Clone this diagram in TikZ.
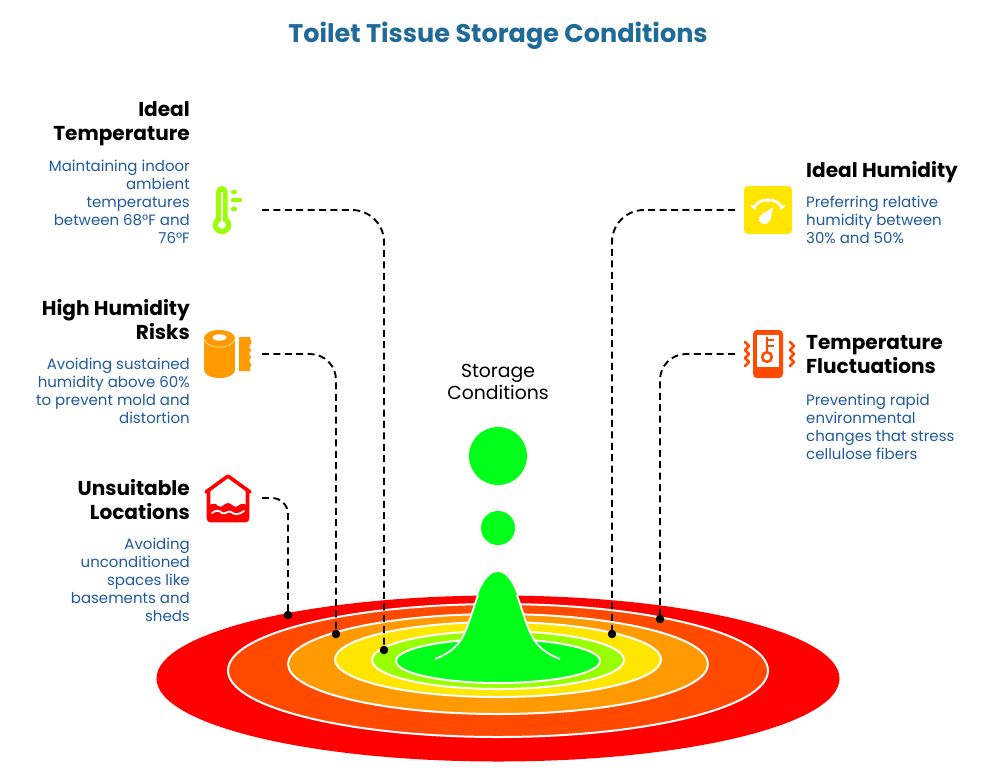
\documentclass[tikz,border=0pt]{standalone}
\usepackage{fontspec}
\setmainfont{Poppins}
\definecolor{cRed}{HTML}{FF0000}
\definecolor{cOrd}{HTML}{FF4A00}
\definecolor{cOra}{HTML}{FF9A00}
\definecolor{cYel}{HTML}{FFE600}
\definecolor{cLim}{HTML}{99FF00}
\definecolor{cGrn}{HTML}{00FF19}
\definecolor{cBody}{HTML}{1F5A9E}
\definecolor{cTitle}{HTML}{1F6A96}
\tikzset{
  ring/.style={draw=white,line width=2pt},
  head/.style={inner sep=0pt,font=\fontsize{20.1}{24}\selectfont\bfseries,text=black},
  body/.style={inner sep=0pt,font=\fontsize{15}{18}\selectfont,text=cBody},
  conn/.style={draw=black,line width=1.9pt,dash pattern=on 7pt off 4.4pt},
  dot/.style={circle,fill=black,inner sep=0pt,minimum size=8.5pt},
}
\begin{document}
\begin{tikzpicture}[x=1pt,y=-1pt]
\useasboundingbox (0,0) rectangle (991,772);
\fill[white] (0,0) rectangle (991,772);
\node[inner sep=0pt,font=\fontsize{25.5}{30}\selectfont\bfseries,text=cTitle] (title) at (498,36) {Toilet Tissue Storage Conditions};
% rings
\fill[cRed] (498,678.5) ellipse [x radius=341.5,y radius=83];
\path[ring,fill=cOrd] (498,670.5) ellipse [x radius=270,y radius=66.5];
\path[ring,fill=cOra] (498,664) ellipse [x radius=210,y radius=50];
\path[ring,fill=cYel] (498,659.5) ellipse [x radius=163,y radius=37.5];
\path[ring,fill=cLim] (498,660) ellipse [x radius=126,y radius=29];
\path[ring,fill=cGrn] (498,661) ellipse [x radius=102,y radius=22];
% bell
\fill[cGrn] (435,659) .. controls (448,654) and (456,648) .. (462,638) .. controls (468,628) and (472,612) .. (478,595) .. controls (481,586) and (488,572) .. (498,572) .. controls (507,572) and (514,586) .. (517,595) .. controls (523,612) and (527,628) .. (533,638) .. controls (539,648) and (547,654) .. (560,659) -- cycle;
\draw[white,line width=1.8pt] (435,659) .. controls (448,654) and (456,648) .. (462,638) .. controls (468,628) and (472,612) .. (478,595);
\draw[white,line width=1.8pt] (517,595) .. controls (523,612) and (527,628) .. (533,638) .. controls (539,648) and (547,654) .. (560,659);
\node[circle,fill=cGrn,inner sep=0pt,minimum size=58pt] (bigdrop) at (498,456) {};
\node[circle,fill=cGrn,inner sep=0pt,minimum size=34pt] (smalldrop) at (498,528) {};
\node[inner sep=0pt,align=center,font=\fontsize{18.8}{22}\selectfont] (storage) at (498,382) {Storage\\Conditions};
% left texts
\node[head,anchor=north east,align=right] (h1) at (190,101) {Ideal\\Temperature};
\node[body,anchor=north east,align=right] (b1) at (190,160) {Maintaining indoor\\ambient\\temperatures\\between 68°F and\\76°F};
\node[head,anchor=north east,align=right] (h2) at (190,299) {High Humidity\\Risks};
\node[body,anchor=north east,align=right] (b2) at (190,358) {Avoiding sustained\\humidity above 60\%\\to prevent mold and\\distortion};
\node[head,anchor=north east,align=right] (h3) at (190,479) {Unsuitable\\Locations};
\node[body,anchor=north east,align=right] (b3) at (190,538) {Avoiding\\unconditioned\\spaces like\\basements and\\sheds};
% right texts
\node[head,anchor=north west,align=left] (h4) at (806,161) {Ideal Humidity};
\node[body,anchor=north west,align=left] (b4) at (806,196) {Preferring relative\\humidity between\\30\% and 50\%};
\node[head,anchor=north west,align=left] (h5) at (806,335) {Temperature\\Fluctuations};
\node[body,anchor=north west,align=left] (b5) at (806,394) {Preventing rapid\\environmental\\changes that stress\\cellulose fibers};
% thermometer icon
\fill[cLim,rounded corners=5.6pt] (216.2,186) rectangle (227.6,226);
\fill[cLim] (222,225) circle (9.2);
\fill[white] (220.7,192) rectangle (223.3,222);
\fill[white] (222,225) circle (4);
\draw[cLim,line width=3.4pt,line cap=round] (232.5,192) -- (235.5,192) (232.5,200) -- (240.5,200) (232.5,209) -- (235.5,209);
% roll icon
\fill[cOra] (204,338) rectangle (235,370);
\fill[cOra] (219.5,370) ellipse [x radius=15.5,y radius=8];
\fill[cOra] (219.5,338) ellipse [x radius=15.5,y radius=8];
\fill[white] (219.5,337.5) ellipse [x radius=7,y radius=3.2];
\draw[white!70!cOra,line width=.7pt] (204,339) .. controls (207,350) and (232,350) .. (235,339);
\fill[cOra] (239,337) -- (250,337) .. controls (250,340) and (252,341) .. (251.5,343) .. controls (248.5,346) and (248.5,348) .. (251.5,350) .. controls (248.5,353) and (248.5,355) .. (251.5,357) .. controls (248.5,360) and (248.5,362) .. (251.5,364) .. controls (250,367) and (250,369) .. (250,371) -- (239,371) -- cycle;
% house icon
\draw[cRed,line width=3.6pt,line cap=round,line join=round] (206,492) -- (228,476) -- (250,492);
\draw[cRed,line width=3.6pt,line join=round,rounded corners=2pt] (208.5,490) -- (208.5,520.5) -- (247.5,520.5) -- (247.5,490);
\fill[cRed] (208,506) .. controls (212,503) and (216,503) .. (218,506) .. controls (222,509) and (224,503) .. (228,503) .. controls (232,503) and (234,509) .. (238,506) .. controls (241,503) and (244,503) .. (248,506) -- (248,521) -- (208,521) -- cycle;
\draw[white,line width=1.8pt,line cap=round] (212,513) .. controls (216,510) and (219,510) .. (222,513) .. controls (225,515) and (228,510) .. (231,512) .. controls (235,515) and (238,515) .. (244,511);
% gauge icon
\fill[cYel,rounded corners=4pt] (744,186) rectangle (792,234);
\draw[white,line width=2.6pt] (754,208) .. controls (758,197) and (778,197) .. (782,208);
\draw[white,line width=2pt,line cap=round] (768,199) -- (768,202);
\draw[white,line width=2.4pt,line cap=round] (752,206) -- (755,208.5) (784,206) -- (781,208.5);
\fill[white] (773.5,207) .. controls (771,214) and (772,224) .. (764,224) .. controls (759,224) and (757,218) .. (761,215) .. controls (764,212) and (769,211) .. (773.5,207) -- cycle;
% phone icon
\fill[cOrd,rounded corners=4pt] (753,330) rectangle (783,378);
\fill[white] (757,335) rectangle (779,367);
\draw[cOrd,line width=2.6pt] (767,357) circle (4.8);
\draw[cOrd,line width=2.6pt] (767,352) -- (767,337);
\draw[cOrd,line width=2.6pt] (767,340) -- (774,340) (767,346) -- (774,346);
\draw[cOrd,line width=2.6pt,line join=round,line cap=round] (745,342) -- (749,346) -- (745,350) -- (749,354) -- (745,358) -- (749,362) -- (745,366);
\draw[cOrd,line width=2.6pt,line join=round,line cap=round] (790,342) -- (794,346) -- (790,350) -- (794,354) -- (790,358) -- (794,362) -- (790,366);
% connector ends
\coordinate (c1) at (262,210);
\coordinate (c2) at (262,354);
\coordinate (c3) at (262,498);
\coordinate (c4) at (735,210);
\coordinate (c5) at (735,354);
\node[dot] (d1) at (384,650) {};
\node[dot] (d2) at (336,634) {};
\node[dot] (d3) at (288,615) {};
\node[dot] (d4) at (612,634) {};
\node[dot] (d5) at (660,619) {};
\draw[conn,rounded corners=32pt] (c1) -| (d1.center);
\draw[conn,rounded corners=26pt] (c2) -| (d2.center);
\draw[conn,rounded corners=16pt] (c3) -| (d3.center);
\draw[conn,rounded corners=32pt] (c4) -| (d4.center);
\draw[conn,rounded corners=26pt] (c5) -| (d5.center);
\end{tikzpicture}
\end{document}
